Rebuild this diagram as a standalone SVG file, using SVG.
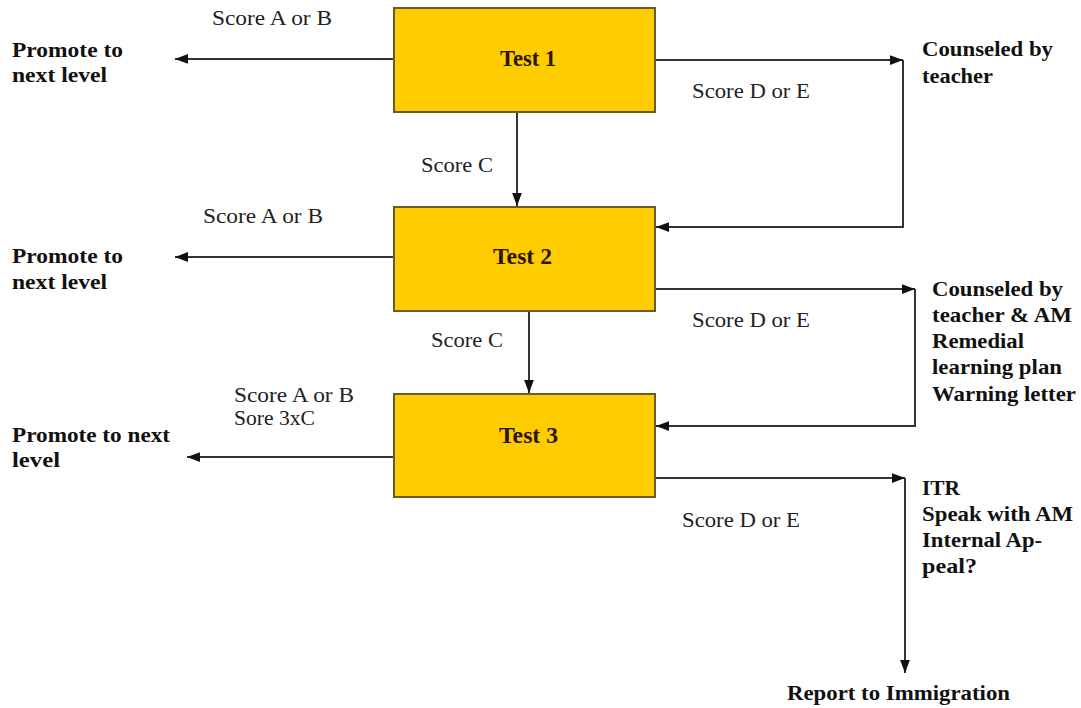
<svg xmlns="http://www.w3.org/2000/svg" width="1081" height="708" viewBox="0 0 1081 708">
<defs>
<marker id="ah" viewBox="0 0 12 10" refX="12" refY="5" markerWidth="13" markerHeight="11" markerUnits="userSpaceOnUse" orient="auto">
<path d="M0,0.5 L12,5 L0,9.5 Z" fill="#111"/>
</marker>
</defs>
<style>
.box{fill:#FFCC00;stroke:#6b5a2a;stroke-width:2}
text{font-family:'Liberation Serif','DejaVu Serif','Times New Roman',serif}
.bt{font-weight:bold;font-size:23px;fill:#2a1600}
.lb{font-size:22px;fill:#222}
.bl{font-weight:bold;font-size:22px;fill:#111}
.ln{fill:none;stroke:#333;stroke-width:2;marker-end:url(#ah)}
</style>
<rect width="1081" height="708" fill="#fff"/>
<g id="connectors">
<path class="ln" d="M393,59 H175"/>
<path class="ln" d="M655,60 H903"/>
<path class="ln" d="M903,60 V227 H656"/>
<path class="ln" d="M517,112 V206"/>
<path class="ln" d="M393,257 H175"/>
<path class="ln" d="M655,289 H915"/>
<path class="ln" d="M915,289 V426 H656"/>
<path class="ln" d="M529,311 V393"/>
<path class="ln" d="M393,457 H187"/>
<path class="ln" d="M655,478 H905"/>
<path class="ln" d="M905,478 V673"/>
</g>
<g id="test1"><rect class="box" x="394" y="8" width="261" height="104"/><text class="bt" x="500" y="66" textLength="56" lengthAdjust="spacingAndGlyphs">Test 1</text></g>
<g id="test2"><rect class="box" x="394" y="207" width="261" height="104"/><text class="bt" x="493" y="264" textLength="59" lengthAdjust="spacingAndGlyphs">Test 2</text></g>
<g id="test3"><rect class="box" x="394" y="394" width="261" height="103"/><text class="bt" x="499" y="443" textLength="59" lengthAdjust="spacingAndGlyphs">Test 3</text></g>
<g id="labels">
<text class="lb" x="212" y="25" textLength="120" lengthAdjust="spacingAndGlyphs">Score A or B</text>
<text class="lb" x="692" y="98" textLength="118" lengthAdjust="spacingAndGlyphs">Score D or E</text>
<text class="lb" x="421" y="172" textLength="72" lengthAdjust="spacingAndGlyphs">Score C</text>
<text class="lb" x="203" y="223" textLength="120" lengthAdjust="spacingAndGlyphs">Score A or B</text>
<text class="lb" x="692" y="327" textLength="118" lengthAdjust="spacingAndGlyphs">Score D or E</text>
<text class="lb" x="431" y="347" textLength="72" lengthAdjust="spacingAndGlyphs">Score C</text>
<text class="lb" x="234" y="402" textLength="120" lengthAdjust="spacingAndGlyphs">Score A or B</text>
<text class="lb" x="234" y="425" textLength="81" lengthAdjust="spacingAndGlyphs">Sore 3xC</text>
<text class="lb" x="682" y="527" textLength="118" lengthAdjust="spacingAndGlyphs">Score D or E</text>
</g>
<g id="promote1"><text class="bl" x="12" y="57" textLength="111" lengthAdjust="spacingAndGlyphs">Promote to</text><text class="bl" x="12" y="82" textLength="95" lengthAdjust="spacingAndGlyphs">next level</text></g>
<g id="promote2"><text class="bl" x="12" y="263" textLength="111" lengthAdjust="spacingAndGlyphs">Promote to</text><text class="bl" x="12" y="289" textLength="95" lengthAdjust="spacingAndGlyphs">next level</text></g>
<g id="promote3"><text class="bl" x="12" y="442" textLength="158" lengthAdjust="spacingAndGlyphs">Promote to next</text><text class="bl" x="12" y="467" textLength="48" lengthAdjust="spacingAndGlyphs">level</text></g>
<g id="counsel1"><text class="bl" x="922" y="56" textLength="131" lengthAdjust="spacingAndGlyphs">Counseled by</text><text class="bl" x="922" y="83" textLength="71" lengthAdjust="spacingAndGlyphs">teacher</text></g>
<g id="counsel2"><text class="bl" x="932" y="296" textLength="131" lengthAdjust="spacingAndGlyphs">Counseled by</text><text class="bl" x="932" y="322" textLength="140" lengthAdjust="spacingAndGlyphs">teacher &amp; AM</text><text class="bl" x="932" y="348" textLength="92" lengthAdjust="spacingAndGlyphs">Remedial</text><text class="bl" x="932" y="374" textLength="130" lengthAdjust="spacingAndGlyphs">learning plan</text><text class="bl" x="932" y="401" textLength="144" lengthAdjust="spacingAndGlyphs">Warning letter</text></g>
<g id="itr"><text class="bl" x="922" y="495" textLength="38" lengthAdjust="spacingAndGlyphs">ITR</text><text class="bl" x="922" y="521" textLength="151" lengthAdjust="spacingAndGlyphs">Speak with AM</text><text class="bl" x="922" y="547" textLength="120" lengthAdjust="spacingAndGlyphs">Internal Ap-</text><text class="bl" x="922" y="573" textLength="55" lengthAdjust="spacingAndGlyphs">peal?</text></g>
<g id="report"><text class="bl" x="787" y="700" textLength="223" lengthAdjust="spacingAndGlyphs">Report to Immigration</text></g>
</svg>
